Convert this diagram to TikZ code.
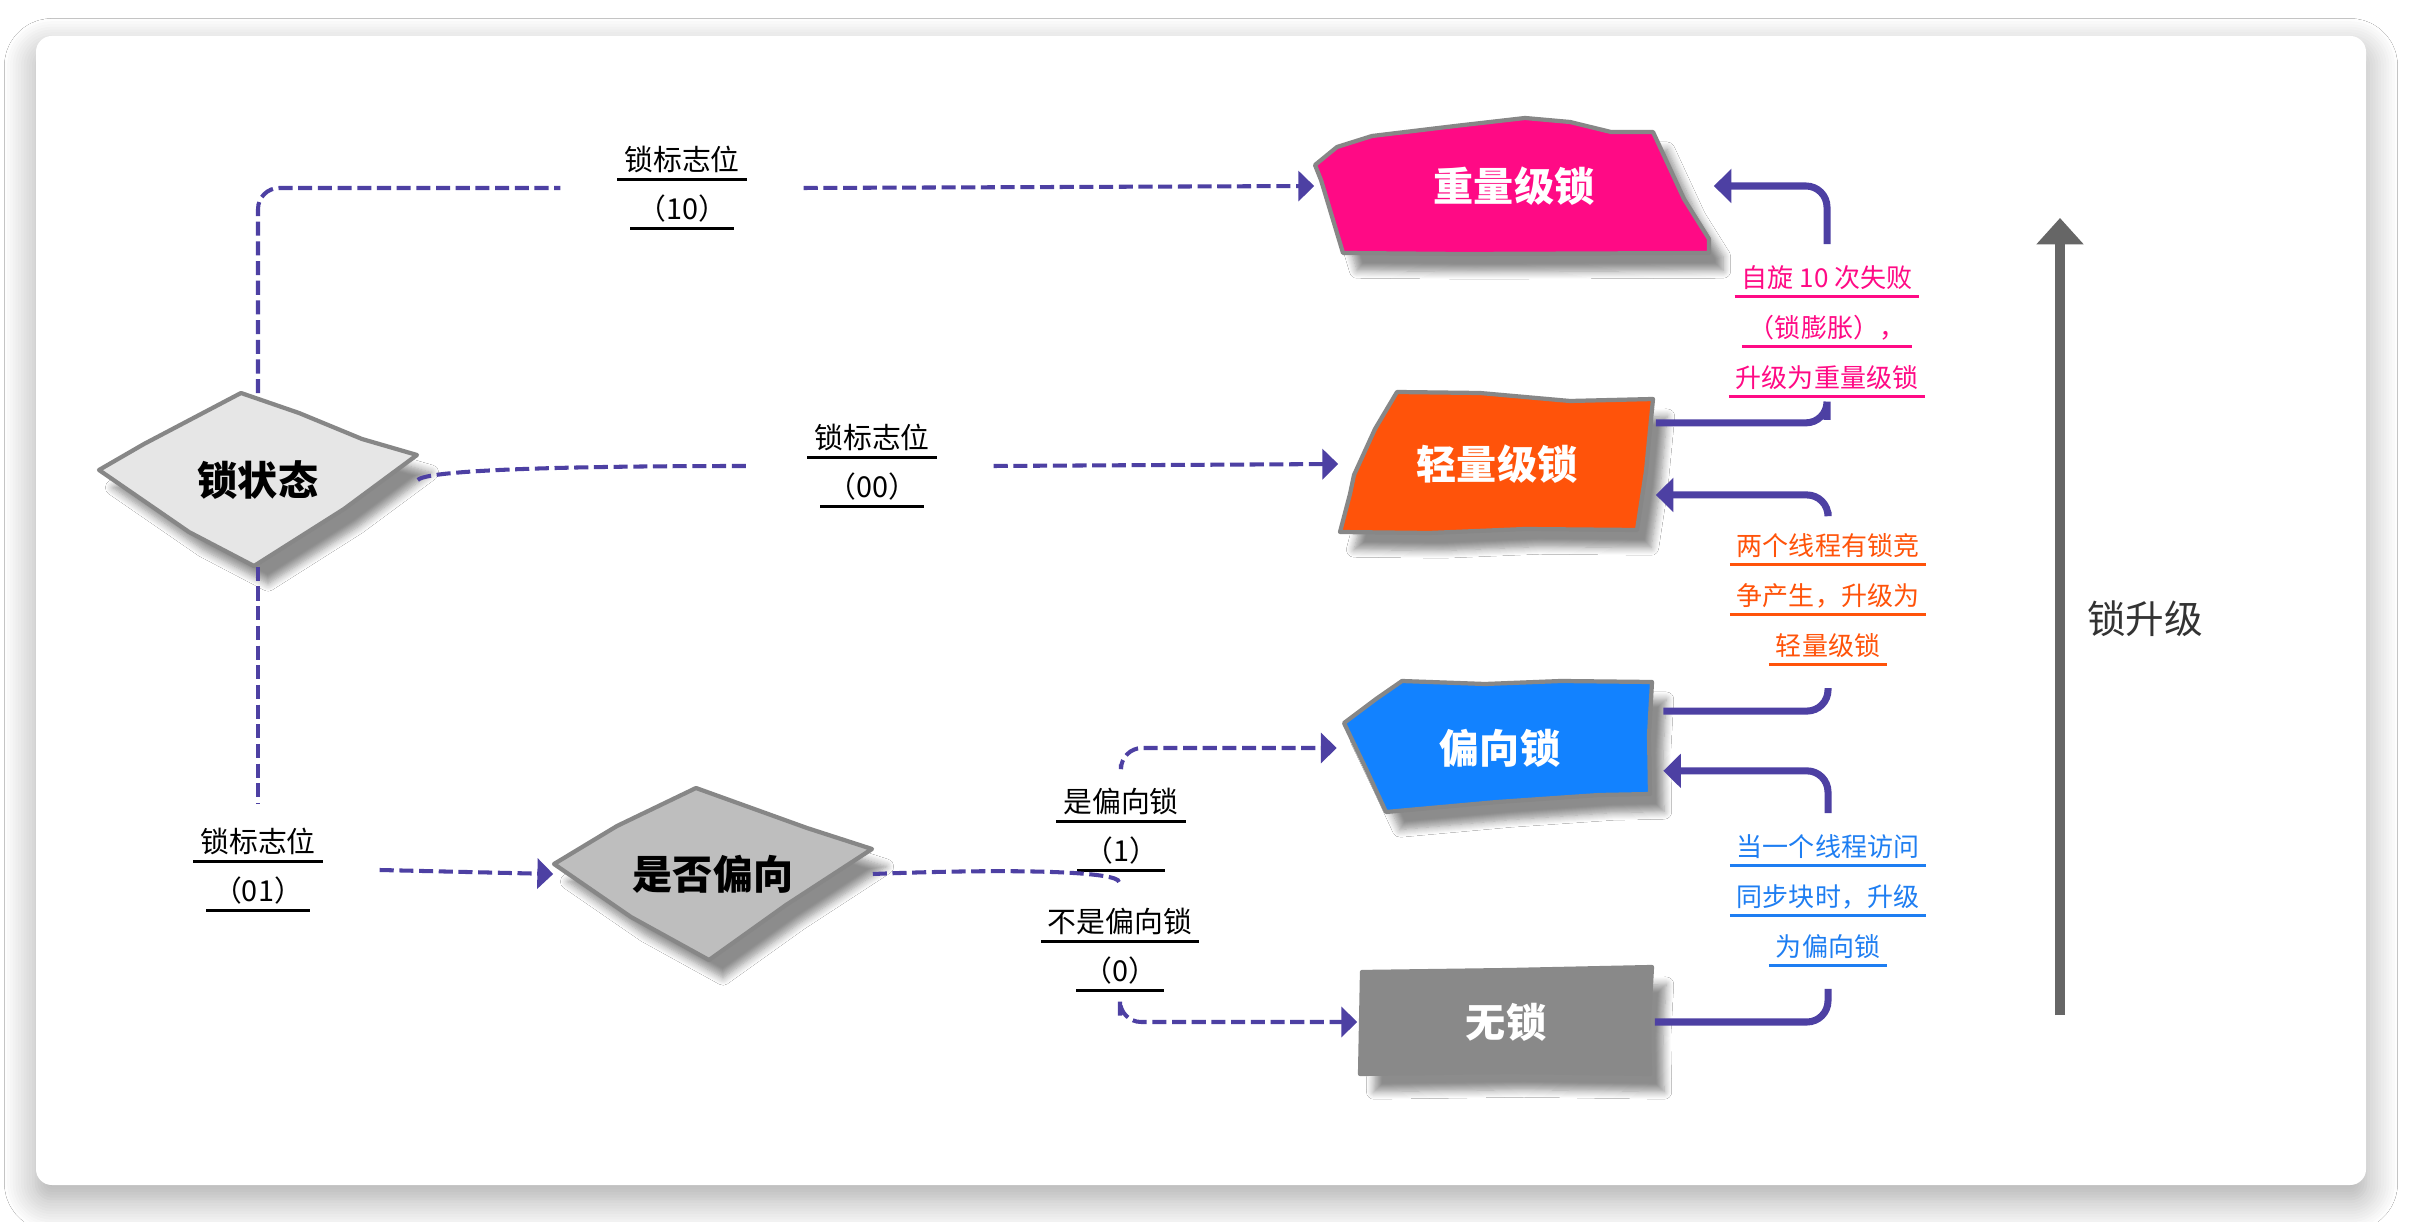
\documentclass[tikz,border=0pt]{standalone}
\usepackage{fontspec}
\setmainfont{Noto Sans CJK SC}
\usetikzlibrary{arrows.meta,shapes.geometric,shadows.blur}
\definecolor{HeavyPink}{HTML}{FF0A85}
\definecolor{LightOrange}{HTML}{FF530A}
\definecolor{BiasBlue}{HTML}{1282FF}
\definecolor{NoLockGray}{HTML}{898989}
\definecolor{EdgeGray}{HTML}{878787}
\definecolor{FlowPurple}{HTML}{4D40A3}
\definecolor{StateFill}{HTML}{E6E6E6}
\definecolor{AskFill}{HTML}{BEBEBE}
\definecolor{NoteBlue}{HTML}{1E7EF2}

\newsavebox{\flagbox}
\newcommand{\flagline}[1]{\sbox{\flagbox}{#1}\rlap{\kern-2pt\rule[-3pt]{\dimexpr\wd\flagbox+4pt\relax}{0.9pt}}\usebox{\flagbox}}

\begin{document}
\begin{tikzpicture}[x=0.01cm,y=-0.01cm,
  lockshape/.style={draw=EdgeGray,line width=1.2pt,line join=round,
    blur shadow={shadow xshift=4pt,shadow yshift=-5pt,shadow blur steps=8,shadow opacity=45}},
  locktext/.style={text=white,font=\fontsize{11.4}{13}\selectfont\bfseries,inner sep=0pt,minimum height=1.3cm},
  asktext/.style={diamond,inner sep=0pt,minimum width=3.18cm,minimum height=1.72cm,
    font=\fontsize{11.4}{13}\selectfont\bfseries},
  flag/.style={align=center,font=\fontsize{8.2}{14}\selectfont,inner xsep=18pt,inner ysep=6.5pt},
  note/.style={align=center,font=\fontsize{7.4}{14.2}\selectfont,inner xsep=2pt,inner ysep=6pt},
  dashline/.style={FlowPurple,line width=1.15pt,dash pattern=on 4pt off 1.6pt,rounded corners=6pt},
  dasharrow/.style={dashline,-{Triangle[length=4.5pt,width=8.5pt]}},
  upline/.style={FlowPurple,line width=2pt,rounded corners=6pt},
  uparrow/.style={upline,-{Triangle[length=5pt,width=9.5pt]}}]
  \useasboundingbox (0,0) rectangle (2412,1222);
  \fill[white] (0,0) rectangle (2412,1222);
  \fill[white,rounded corners=4.5pt,blur shadow={shadow xshift=0pt,shadow yshift=-4pt,shadow blur radius=9pt,shadow blur steps=12,shadow opacity=35}] (36,36) rectangle (2366,1185);

  \filldraw[lockshape,fill=HeavyPink] (1315,165) -- (1337,147) -- (1372,136) -- (1455,126) -- (1525,118) -- (1570,122) -- (1611,132) -- (1653,132) -- (1684,199) -- (1709,239) -- (1709,253) -- (1461,254) -- (1343,253) -- (1321,180) -- cycle;
  \node[locktext,minimum width=3.98cm] (heavy) at (1514,186) {重量级锁};

  \filldraw[lockshape,fill=LightOrange] (1397,392) -- (1480,393) -- (1570,401) -- (1653,399) -- (1646,471) -- (1637,530) -- (1525,529) -- (1429,533) -- (1340,532) -- (1350,494) -- (1354,475) -- (1375,429) -- cycle;
  \node[locktext,minimum width=3.16cm] (light) at (1497,464) {轻量级锁};

  \filldraw[lockshape,fill=BiasBlue] (1402,681) -- (1485,684) -- (1561,681) -- (1652,682) -- (1649,735) -- (1650,794) -- (1599,795) -- (1497,802) -- (1386,812) -- (1367,771) -- (1344,723) -- (1376,699) -- cycle;
  \node[locktext,minimum width=3.25cm] (biased) at (1500,748) {偏向锁};

  \filldraw[lockshape,draw=NoLockGray,fill=NoLockGray] (1362,972) -- (1510,970) -- (1652,967) -- (1649,1020) -- (1650,1074) -- (1510,1072) -- (1360,1074) -- cycle;
  \node[locktext,minimum width=2.96cm] (nolock) at (1506,1022) {无锁};

  \filldraw[lockshape,fill=StateFill] (241,393) -- (299,413) -- (362,439) -- (417,455) -- (344,509) -- (254,566) -- (189,532) -- (99,470) -- (144,444) -- cycle;
  \node[asktext] (state) at (258,480) {锁状态};

  \filldraw[lockshape,fill=AskFill] (696,788) -- (807,828) -- (872,849) -- (786,905) -- (709,960) -- (631,917) -- (554,864) -- (617,826) -- cycle;
  \node[asktext] (ask) at (713,874) {是否偏向};

  \node[flag] (flag10) at (682,188) {\flagline{锁标志位}\\\flagline{（10）}};
  \node[flag] (flag00) at (872,466) {\flagline{锁标志位}\\\flagline{（00）}};
  \node[flag] (flag01) at (258,870) {\flagline{锁标志位}\\\flagline{（01）}};
  \node[flag] (yesflag) at (1121,830) {\flagline{是偏向锁}\\\flagline{（1）}};
  \node[flag] (noflag) at (1120,950) {\flagline{不是偏向锁}\\\flagline{（0）}};

  \node[note,text=HeavyPink] (pinknote) at (1827,332) {\flagline{自旋 10 次失败}\\\flagline{（锁膨胀），}\\\flagline{升级为重量级锁}};
  \node[note,text=LightOrange] (orangenote) at (1828,600) {\flagline{两个线程有锁竞}\\\flagline{争产生，升级为}\\\flagline{轻量级锁}};
  \node[note,text=NoteBlue] (bluenote) at (1828,901) {\flagline{当一个线程访问}\\\flagline{同步块时，升级}\\\flagline{为偏向锁}};

  \draw[dashline] (state.north) |- (flag10.west);
  \draw[dasharrow] (flag10.east) -- (heavy.west);
  \draw[dashline] (state.east) .. controls +(12,-14) and +(-60,0) .. (flag00.west);
  \draw[dasharrow] (flag00.east) -- (light.west);
  \draw[dashline] (state.south) -- (flag01.north);
  \draw[dasharrow] (flag01.east) -- (ask.west);
  \coordinate (fork) at (1119,882);
  \draw[dashline] (ask.east) .. controls +(150,-6) and +(0,-10) .. (fork);
  \draw[dasharrow] (yesflag.north) |- (biased.west);
  \draw[dasharrow] (noflag.south) |- (nolock.west);

  \draw[upline] (nolock.east) -| (bluenote.south);
  \draw[uparrow] (bluenote.north) |- ([yshift=-6.5pt]biased.east);
  \draw[upline] ([yshift=10.5pt]biased.east) -| (orangenote.south);
  \draw[uparrow] (orangenote.north) |- ([yshift=-8.8pt]light.east);
  \draw[upline] ([yshift=11.7pt]light.east) -| (pinknote.south);
  \draw[uparrow] (pinknote.north) |- (heavy.east);

  \coordinate (riseS) at (2060,1015);
  \coordinate (riseE) at (2060,218);
  \draw[line width=2.9pt,draw=black!60,-{Triangle[length=7.5pt,width=13pt]}] (riseS) -- (riseE);
  \node[font=\fontsize{11}{13}\selectfont,text=black!80] (riselabel) at (2145,619) {锁升级};
\end{tikzpicture}
\end{document}
